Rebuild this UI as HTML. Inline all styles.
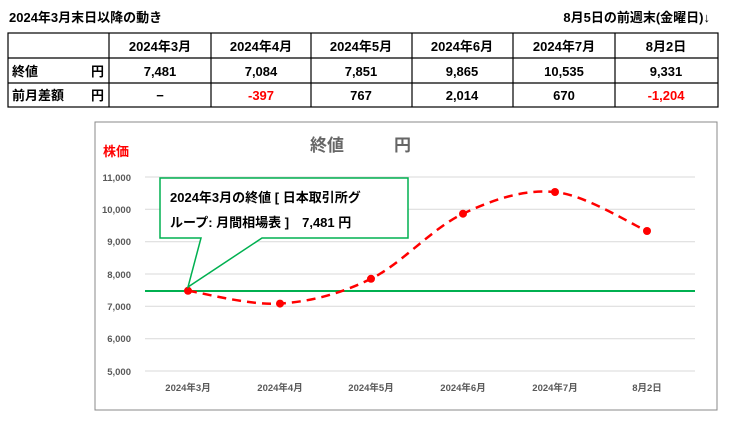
<!DOCTYPE html>
<html><head><meta charset="utf-8"><style>
body{margin:0;background:#fff;width:730px;height:418px;overflow:hidden;font-family:"Liberation Sans","Noto Sans CJK JP",sans-serif;}
svg text{font-family:"Liberation Sans","Noto Sans CJK JP",sans-serif;}
</style></head><body>
<svg width="730" height="418" xmlns="http://www.w3.org/2000/svg">
<text x="9" y="22" font-size="13" font-weight="bold" fill="#000">2024年3月末日以降の動き</text>
<text x="710" y="22" font-size="13" font-weight="bold" fill="#000" text-anchor="end">8月5日の前週末(金曜日)↓</text>
<g stroke="#000" stroke-width="1.2" fill="none">
<rect x="8" y="33" width="710" height="74"/>
<line x1="8" y1="58" x2="718" y2="58"/><line x1="8" y1="83" x2="718" y2="83"/>
<line x1="109" y1="33" x2="109" y2="107"/><line x1="211" y1="33" x2="211" y2="107"/>
<line x1="311" y1="33" x2="311" y2="107"/><line x1="412" y1="33" x2="412" y2="107"/>
<line x1="513" y1="33" x2="513" y2="107"/><line x1="615" y1="33" x2="615" y2="107"/>
</g>
<g font-size="13" font-weight="bold" text-anchor="middle" fill="#000">
<text x="160" y="51">2024年3月</text><text x="261" y="51">2024年4月</text><text x="361" y="51">2024年5月</text><text x="462" y="51">2024年6月</text><text x="564" y="51">2024年7月</text><text x="666" y="51">8月2日</text>
<text x="160" y="76">7,481</text><text x="261" y="76">7,084</text><text x="361" y="76">7,851</text><text x="462" y="76">9,865</text><text x="564" y="76">10,535</text><text x="666" y="76">9,331</text>
<text x="160" y="100">−</text><text x="261" y="100" fill="#f00">-397</text><text x="361" y="100">767</text><text x="462" y="100">2,014</text><text x="564" y="100">670</text><text x="666" y="100" fill="#f00">-1,204</text>
</g>
<g font-size="13" font-weight="bold" fill="#000">
<text x="12" y="76">終値</text><text x="104" y="76" text-anchor="end">円</text>
<text x="12" y="100">前月差額</text><text x="104" y="100" text-anchor="end">円</text>
</g>
<rect x="95" y="122" width="622" height="288" fill="#fff" stroke="#888" stroke-width="1"/>
<text x="310" y="151" font-size="17" font-weight="bold" fill="#666">終値</text>
<text x="394" y="151" font-size="17" font-weight="bold" fill="#666">円</text>
<text x="103" y="156" font-size="13" font-weight="bold" fill="#f00">株価</text>
<g stroke="#d9d9d9" stroke-width="1">
<line x1="145" y1="177" x2="695" y2="177"/><line x1="145" y1="209.3" x2="695" y2="209.3"/><line x1="145" y1="241.7" x2="695" y2="241.7"/><line x1="145" y1="274" x2="695" y2="274"/><line x1="145" y1="306.3" x2="695" y2="306.3"/><line x1="145" y1="338.7" x2="695" y2="338.7"/><line x1="145" y1="371" x2="695" y2="371"/>
</g>
<g font-size="9.5" font-weight="bold" fill="#595959" text-anchor="end">
<text x="131" y="181">11,000</text><text x="131" y="213">10,000</text><text x="131" y="245">9,000</text><text x="131" y="278">8,000</text><text x="131" y="310">7,000</text><text x="131" y="342">6,000</text><text x="131" y="375">5,000</text>
</g>
<g font-size="9.5" font-weight="bold" fill="#595959" text-anchor="middle">
<text x="188" y="391">2024年3月</text><text x="280" y="391">2024年4月</text><text x="371" y="391">2024年5月</text><text x="463" y="391">2024年6月</text><text x="555" y="391">2024年7月</text><text x="647" y="391">8月2日</text>
</g>
<line x1="145" y1="291" x2="695" y2="291" stroke="#00b050" stroke-width="2"/>
<path d="M188,290.8 C203.3,292.9 249.5,305.6 280,303.6 C310.5,301.6 340.5,293.8 371,278.8 C401.5,263.8 432.3,228.2 463,213.7 C493.7,199.2 524.3,189.1 555,192 C585.7,194.9 631.7,224.5 647,231" fill="none" stroke="#f00" stroke-width="2.5" stroke-dasharray="9,6"/>
<g fill="#f00"><circle cx="188" cy="290.8" r="4"/><circle cx="280" cy="303.6" r="4"/><circle cx="371" cy="278.8" r="4"/><circle cx="463" cy="213.7" r="4"/><circle cx="555" cy="192" r="4"/><circle cx="647" cy="231" r="4"/></g>
<path d="M160,178 H408 V238 H262 L188,287 L201,238 H160 Z" fill="#fff" stroke="#00b050" stroke-width="1.5"/>
<text x="170" y="202" font-size="13" font-weight="bold" fill="#000">2024年3月の終値 [ 日本取引所グ</text>
<text x="170" y="227" font-size="13" font-weight="bold" fill="#000">ループ: 月間相場表 ]　7,481 円</text>
</svg>
</body></html>
